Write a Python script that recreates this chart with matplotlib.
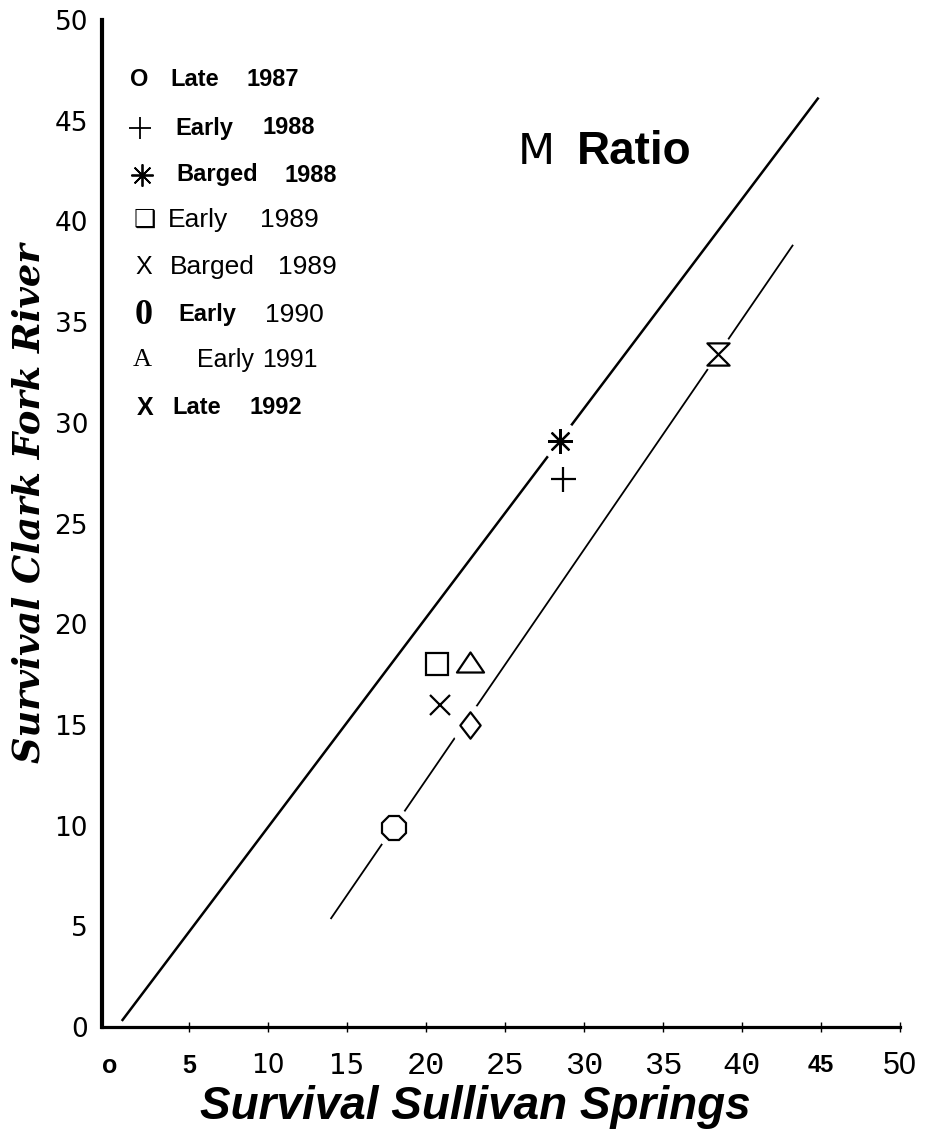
import matplotlib
matplotlib.use("Agg")
import matplotlib.pyplot as plt
from matplotlib import font_manager
from matplotlib.lines import Line2D
from matplotlib.path import Path

W, H = 926, 1139

# survival (%) of each release group at the two sites
season = ["Late", "Early", "Barged", "Early", "Barged", "Early", "Early", "Late"]
year = [1987, 1988, 1988, 1989, 1989, 1990, 1991, 1992]
sullivan = [18.0, 28.7, 28.5, 20.7, 20.9, 22.8, 22.8, 38.5]
clark = [9.9, 27.2, 29.1, 18.0, 16.0, 15.0, 18.1, 33.4]

# equal-survival line and fitted line
ref_x = [0.8, 44.8]
ref_y = [0.35, 46.1]
fit_x = [14.0, 43.2]
fit_y = [5.4, 38.8]

x_ticks = [0, 5, 10, 15, 20, 25, 30, 35, 40, 45, 50]
x_tick_labels = ["o", "5", "10", "15", "20", "25", "30", "35", "40", "45", "50"]
y_ticks = [0, 5, 10, 15, 20, 25, 30, 35, 40, 45, 50]
y_tick_labels = ["0", "5", "10", "15", "20", "25", "30", "35", "40", "45", "50"]

available = {f.name for f in font_manager.fontManager.ttflist}
SANS = "Liberation Sans"
SERIF = "Liberation Serif"
MONO = "Liberation Mono"
NARROW = "Liberation Sans Narrow" if "Liberation Sans Narrow" in available else "DejaVu Sans"

plt.rcParams["font.family"] = SANS

# marker shapes
hourglass = Path([(-1, 1), (1, 1), (-1, -1), (1, -1), (-1, 1)],
                 [Path.MOVETO, Path.LINETO, Path.LINETO, Path.LINETO, Path.CLOSEPOLY])
diamond = Path([(0, 1), (0.77, 0), (0, -1), (-0.77, 0), (0, 1)],
               [Path.MOVETO, Path.LINETO, Path.LINETO, Path.LINETO, Path.CLOSEPOLY])
triangle = Path([(0, 0.74), (1, -0.74), (-1, -0.74), (0, 0.74)],
                [Path.MOVETO, Path.LINETO, Path.LINETO, Path.CLOSEPOLY])
marker_style = [("8", 18.5), ("+", 18), ((8, 2, 0), 18), ("s", 15.5),
                ("x", 15), (diamond, 19), (triangle, 19.5), (hourglass, 16)]

fig = plt.figure(figsize=(W / 100, H / 100), dpi=100)
ax = fig.add_axes([102 / W, (H - 1027) / H, (900 - 102) / W, (1027 - 20) / H])
ax.set_xlim(-0.5, 50)
ax.set_ylim(0, 50)

ax.plot(ref_x, ref_y, color="black", lw=1.8, zorder=2)
ax.plot(fit_x, fit_y, color="black", lw=1.3, zorder=2)

for i in range(len(sullivan)):
    mk, ms = marker_style[i]
    ax.plot(sullivan[i], clark[i], "o", ms=ms + 9, color="white", zorder=3)
    ax.plot(sullivan[i], clark[i], marker=mk, ms=ms, mfc="white", mec="black",
            mew=1.6, ls="none", zorder=4, label=f"{season[i]} {year[i]}")

for side in ("top", "right"):
    ax.spines[side].set_visible(False)
ax.spines["left"].set_linewidth(3)
ax.spines["bottom"].set_linewidth(2.3)

ax.set_yticks(y_ticks, y_tick_labels)
ax.tick_params(axis="y", length=0, pad=10, labelsize=19)
for lab in ax.get_yticklabels():
    lab.set_family("DejaVu Sans")

ax.set_xticks(x_ticks, x_tick_labels)
ax.tick_params(axis="x", direction="inout", length=7, width=1, pad=24.5)
ax.xaxis.get_major_ticks()[0].tick1line.set_visible(False)
x_label_fonts = [(SANS, "bold", 18), (SANS, "bold", 18), (NARROW, "normal", 19),
                 (NARROW, "normal", 20), (MONO, "normal", 23), (MONO, "normal", 23),
                 (MONO, "normal", 23), (MONO, "normal", 23), (MONO, "normal", 23),
                 (SANS, "bold", 17), (SANS, "normal", 22)]
for lab, (fam, wt, sz) in zip(ax.get_xticklabels(), x_label_fonts):
    lab.set_family(fam)
    lab.set_weight(wt)
    lab.set_fontsize(sz)
    lab.set_va("center")

ax.set_xlabel("Survival Sullivan Springs", fontsize=33, fontweight="bold",
              fontstyle="italic", va="center")
ax.xaxis.set_label_coords((475 - 102) / 798, -(1107 - 1027) / 1007)
ax.set_ylabel("Survival Clark Fork River", family="DejaVu Serif", fontsize=26.5,
              fontweight="bold", fontstyle="italic", va="center")
ax.yaxis.set_label_coords((30 - 102) / 798, (1027 - 503) / 1007)


def px(x, y):
    return x / W, 1 - y / H


fig.text(*px(518, 152), "M", family=NARROW, fontsize=31, va="center", ha="left")
fig.text(*px(577, 152), "Ratio", fontsize=33, fontweight="bold", va="center", ha="left")

# key, one row per release group
BOLD = (SANS, "bold", 17)
REG = (SANS, "normal", 19)
key_rows = [
    (("O", BOLD), 130, 170, 247, BOLD, BOLD),
    ("+", 140, 175, 262, BOLD, BOLD),
    ((8, 2, 0), 142, 176, 285, BOLD, BOLD),
    (("\u2751", ("DejaVu Sans", "normal", 18)), 134, 168, 260, REG, REG),
    (("X", (SANS, "normal", 18)), 135, 170, 278, REG, REG),
    (("0", (SERIF, "bold", 26)), 135, 178, 265, BOLD, REG),
    (("A", (SERIF, "normal", 19)), 133, 197, 262, (SANS, "normal", 18), (SANS, "normal", 18)),
    (("X", (SANS, "bold", 18)), 137, 172, 250, BOLD, BOLD),
]
row_y = [80, 128, 175, 220, 267, 315, 360, 408]

for i, (sym, sx, wx, yx, wfont, yfont) in enumerate(key_rows):
    yy = row_y[i]
    if isinstance(sym, tuple) and isinstance(sym[0], str):
        txt, (fam, wt, sz) = sym
        fig.text(*px(sx, yy), txt, family=fam, fontweight=wt, fontsize=sz,
                 va="center", ha="left")
    else:
        fx, fy = px(sx, yy)
        fig.add_artist(Line2D([fx], [fy], marker=sym, ms=16, mew=1.3, color="black",
                              transform=fig.transFigure))
    fam, wt, sz = wfont
    fig.text(*px(wx, yy), season[i], family=fam, fontweight=wt, fontsize=sz,
             va="center", ha="left")
    fam, wt, sz = yfont
    fig.text(*px(yx, yy), str(year[i]), family=fam, fontweight=wt, fontsize=sz,
             va="center", ha="left")

fig.savefig("out.png", dpi=100, facecolor="white")
